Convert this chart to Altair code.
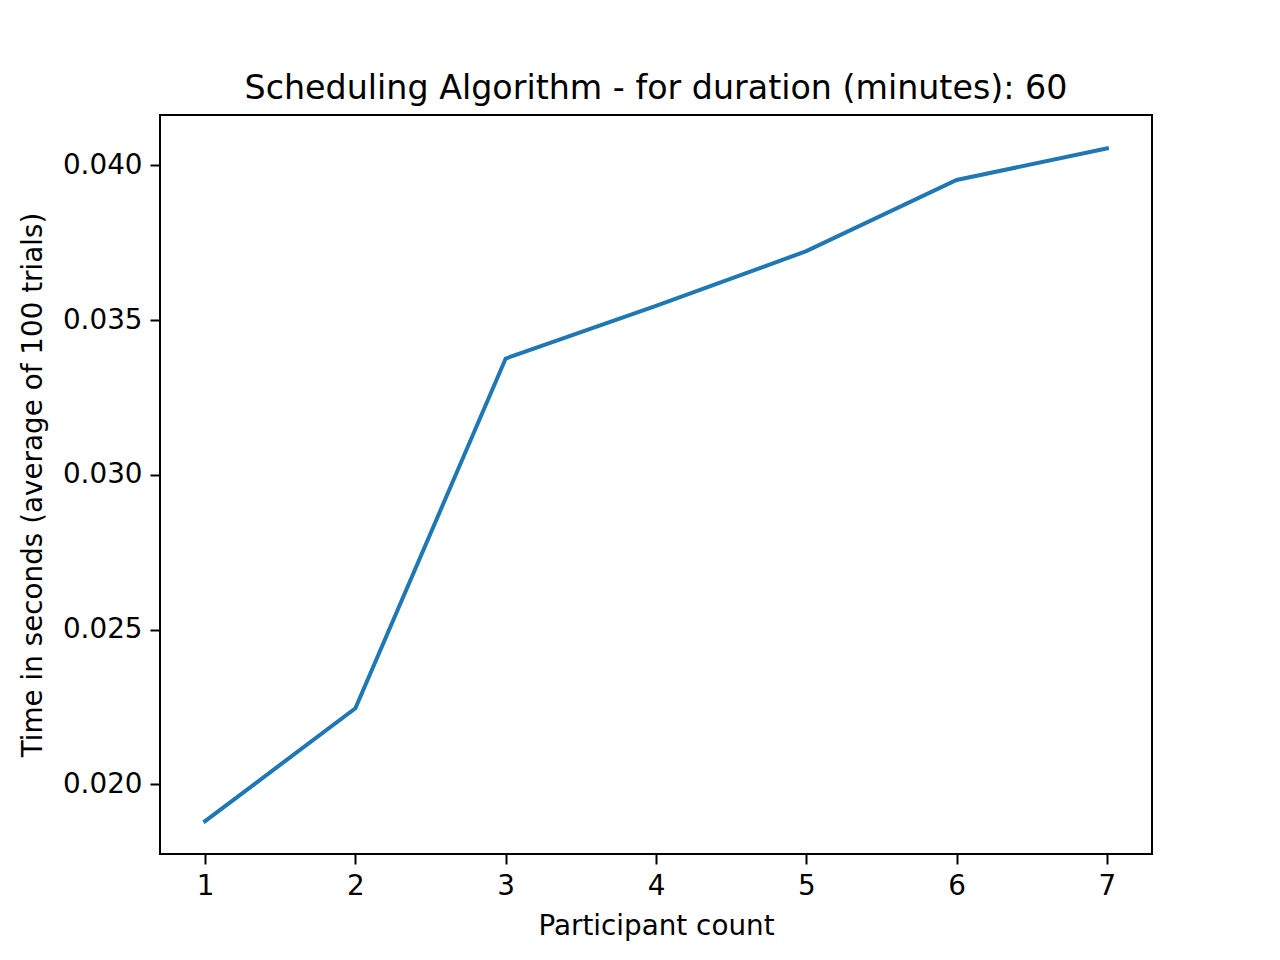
import altair as alt
import pandas as pd

participants = [1, 2, 3, 4, 5, 6, 7]
times = [0.01881, 0.02246, 0.03376, 0.03546, 0.03723, 0.03953, 0.04055]
x_ticks = [1, 2, 3, 4, 5, 6, 7]
y_ticks = [0.020, 0.025, 0.030, 0.035, 0.040]

df = pd.DataFrame({"participants": participants, "time": times})

FONT = "DejaVu Sans"

chart = (
    alt.Chart(df)
    .mark_line(color="#1f77b4", strokeWidth=4, strokeCap="square")
    .encode(
        x=alt.X(
            "participants:Q",
            scale=alt.Scale(domain=[0.7, 7.3], nice=False, zero=False),
            axis=alt.Axis(
                title="Participant count",
                values=x_ticks,
                format="d",
                grid=False,
                tickSize=10,
                tickWidth=2,
                tickColor="black",
                domain=False,
                labelFontSize=27.8,
                labelFont=FONT,
                labelColor="black",
                labelPadding=8,
                titleFontSize=27.8,
                titleFont=FONT,
                titleFontWeight="normal",
                titleColor="black",
                titlePadding=13,
            ),
        ),
        y=alt.Y(
            "time:Q",
            scale=alt.Scale(domain=[0.01775, 0.04163], nice=False, zero=False),
            axis=alt.Axis(
                title="Time in seconds (average of 100 trials)",
                values=y_ticks,
                format=".3f",
                grid=False,
                tickSize=10,
                tickWidth=2,
                tickColor="black",
                domain=False,
                labelFontSize=27.8,
                labelFont=FONT,
                labelColor="black",
                labelPadding=8,
                titleFontSize=27.8,
                titleFont=FONT,
                titleFontWeight="normal",
                titleColor="black",
                titlePadding=15,
            ),
        ),
    )
    .properties(
        width=992,
        height=739,
        title=alt.TitleParams(
            "Scheduling Algorithm - for duration (minutes): 60",
            fontSize=33.3,
            font=FONT,
            fontWeight="normal",
            color="black",
            anchor="middle",
            offset=9,
        ),
        autosize=alt.AutoSizeParams(type="none"),
        padding={"left": 152, "top": 107, "right": 120, "bottom": 98},
    )
    .configure(background="white")
    .configure_view(stroke="black", strokeWidth=2)
)

chart.save("out.html", embed_options={"renderer": "svg", "actions": False})
